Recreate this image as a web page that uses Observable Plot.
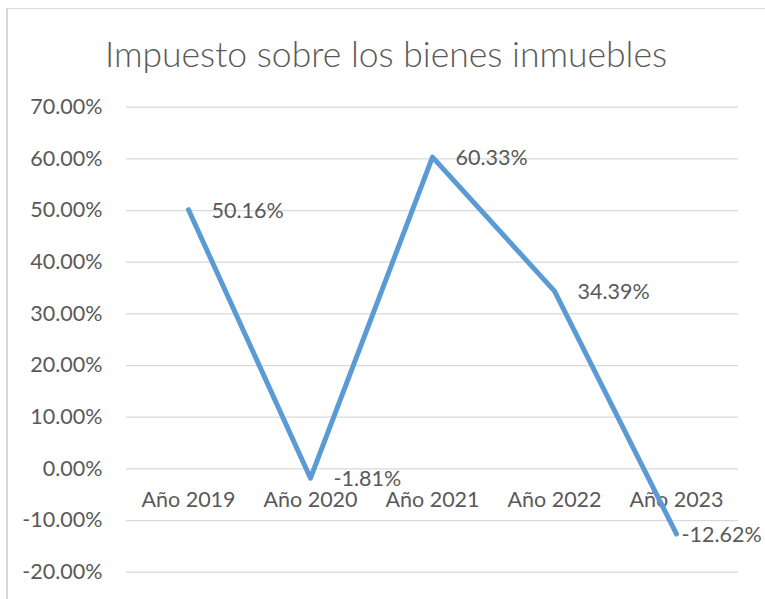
<!DOCTYPE html>
<html>
<head>
<meta charset="utf-8">
<script src="https://cdn.jsdelivr.net/npm/d3@7"></script>
<script src="https://cdn.jsdelivr.net/npm/@observablehq/plot@0.6"></script>
<style>
  html, body { margin: 0; padding: 0; background: #fff; overflow: hidden; }
  #page { position: relative; width: 765px; height: 599px; overflow: hidden; font-family: Lato, "Open Sans", sans-serif; }
  #frame { position: absolute; left: 6px; top: 8px; width: 820px; height: 660px; border: 1px solid #d9d9d9; border-left-width: 2px; }
  #title { position: absolute; left: 0; top: 32px; width: 772px; text-align: center; font-size: 35.5px; font-weight: 300; color: #595959; line-height: 44px; }
  #chart { position: absolute; left: 0; top: 80px; }
</style>
</head>
<body>
<div id="page">
  <div id="frame"></div>
  <div id="title">Impuesto sobre los bienes inmuebles</div>
  <div id="chart"></div>
</div>
<script>
const years = ["Año 2019", "Año 2020", "Año 2021", "Año 2022", "Año 2023"];
const values = [50.16, -1.81, 60.33, 34.39, -12.62];
const yTicks = [-20, -10, 0, 10, 20, 30, 40, 50, 60, 70];

const data = years.map((y, i) => ({year: y, value: values[i], last: i === years.length - 1}));
const fmt = d => d.toFixed(2) + "%";
const textColor = "#595959";
const fs = 21.5;

const chart = Plot.plot({
  width: 765,
  height: 519,
  marginLeft: 126,
  marginRight: 27,
  marginTop: 26.7,
  marginBottom: 27.3,
  style: {fontFamily: "Lato, 'Open Sans', sans-serif", fontSize: fs + "px", color: textColor, background: "transparent"},
  x: {type: "point", domain: years, padding: 0.5, axis: null},
  y: {domain: [-20, 70], ticks: yTicks, tickFormat: fmt, tickSize: 0, tickPadding: 24, label: null},
  marks: [
    Plot.gridY(yTicks, {stroke: "#d9d9d9", strokeOpacity: 1, strokeWidth: 1.3}),
    Plot.axisY({ticks: yTicks, tickFormat: fmt, tickSize: 0, tickPadding: 24, label: null, fill: textColor, fontSize: fs}),
    Plot.text(years, {x: d => d, y: () => 0, dy: 31, text: d => d, fill: textColor, fontSize: fs}),
    Plot.line(data, {x: "year", y: "value", stroke: "#5b9bd5", strokeWidth: 5, strokeLinejoin: "round", strokeLinecap: "round"}),
    Plot.text(data.filter(d => !d.last), {x: "year", y: "value", text: d => fmt(d.value), textAnchor: "start", dx: 23, dy: 1, fill: textColor, fontSize: fs}),
    Plot.text(data.filter(d => d.last), {x: "year", y: "value", text: d => fmt(d.value), textAnchor: "start", dx: 5, dy: 1, fill: textColor, fontSize: fs})
  ]
});
document.getElementById("chart").appendChild(chart);
</script>
</body>
</html>
